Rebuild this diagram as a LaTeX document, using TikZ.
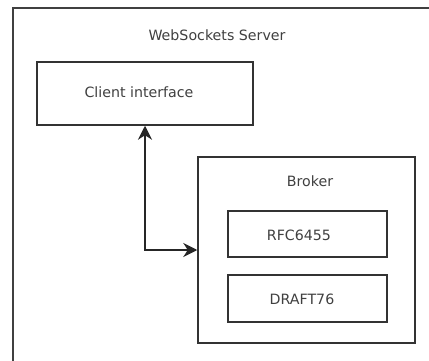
\documentclass[tikz,border=0pt]{standalone}
\usepackage{fontspec}
\setmainfont{DejaVu Sans}
\usetikzlibrary{arrows.meta}

\begin{document}
\begin{tikzpicture}[x=1pt,y=-1pt,
        box/.style={draw=black!80, line width=1.5pt, rectangle, inner sep=0pt},
        lbl/.style={text=black!75, font=\fontsize{14.2}{16}\selectfont, inner sep=0pt},
        link/.style={draw=black!85, line width=1.5pt, {Stealth[length=14pt,width=14pt]}-{Stealth[length=14pt,width=14pt]}}]
        \useasboundingbox (0,0) rectangle (429,361);
        \fill [white] (0,0) rectangle (429,361);
        \draw [black!75, line width=1.5pt] (13,362) -- (13,8) -- (430,8);
        \node [lbl] (server) at (217,35) {WebSockets Server};
        \node [box, minimum width=216pt, minimum height=63pt] (client) at (145,93.5) {};
        \node [lbl] (clienttitle) at (139,92) {Client interface};
        \node [box, minimum width=217pt, minimum height=186pt] (broker) at (306.5,250) {};
        \node [lbl] (brokertitle) at (310,181) {Broker};
        \node [box, minimum width=159pt, minimum height=46pt] (rfc) at (307.5,234) {};
        \node [lbl] (rfctitle) at (299,235) {RFC6455};
        \node [box, minimum width=159pt, minimum height=47pt] (draft) at (307.5,298.5) {};
        \node [lbl] (drafttitle) at (302,299) {DRAFT76};
        \draw [link] (client.south) |- (broker.west);
    \end{tikzpicture}
\end{document}
